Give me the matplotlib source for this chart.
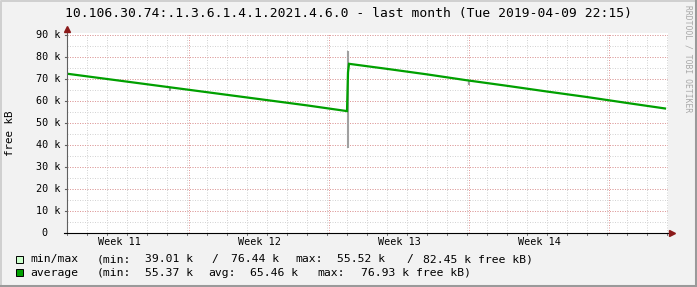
import matplotlib.pyplot as plt
import numpy as np

# rrdtool "last month" free memory graph
titulo = "10.106.30.74:.1.3.6.1.4.1.2021.4.6.0 - last month (Tue 2019-04-09 22:15)"

# time axis in days from the left edge of the graph
dias = [0.0, 2.0, 4.0, 6.0, 8.0, 10.0, 12.0, 14.0, 14.05, 14.1,
        16.0, 18.0, 20.0, 22.0, 24.0, 26.0, 28.0, 29.9]
promedio = [72.4, 70.0, 67.6, 65.2, 62.8, 60.4, 58.0, 55.4, 73.0, 76.9,
            74.6, 72.1, 69.4, 66.9, 64.3, 61.8, 59.1, 56.6]  # kB x1000

# min/max spread where it shows off the average line
mm_dias = [5.15, 14.05, 20.1]
mm_min = [64.7, 38.8, 67.3]
mm_max = [66.0, 82.5, 69.2]

semanas = ["Week 11", "Week 12", "Week 13", "Week 14"]
semana_inicio = 6.1  # first week boundary (days)

ymax = 90.9
xmax = 30.05

fig = plt.figure(figsize=(6.97, 2.87), dpi=100)
fig.patch.set_facecolor('#f2f2f2')
W, H = 697.0, 287.0
ax = fig.add_axes([67 / W, (H - 233) / H, 601 / W, 200 / H])
ax.set_facecolor('white')
ax.set_xlim(0, xmax)
ax.set_ylim(0, ymax)
for s in ax.spines.values():
    s.set_visible(False)
ax.set_xticks([])
ax.set_yticks([])

mono = 'DejaVu Sans Mono'
punteado = (0, (1, 1.5))

# grid: minor every day / 5k, major every week / 10k
for d in np.arange(1, xmax, 1.0):
    ax.axvline(d, color='#d4d4d4', lw=0.72, ls=punteado, zorder=1)
for v in np.arange(5, ymax, 5):
    ax.axhline(v, color='#d4d4d4', lw=0.72, ls=punteado, zorder=1)
for d in np.arange(semana_inicio, xmax, 7.0):
    ax.axvline(d, color='#e49c9c', lw=0.72, ls=punteado, zorder=1.5)
for v in np.arange(10, ymax, 10):
    ax.axhline(v, color='#e49c9c', lw=0.72, ls=punteado, zorder=1.5)

# data
ax.vlines(mm_dias, mm_min, mm_max, color='#a0a0a0', lw=1.5, zorder=3)
ax.plot(dias, promedio, color='#00a000', lw=1.6, zorder=4, solid_joinstyle='miter')

# axes with arrows
ax.plot([0, 0], [0, ymax + 1.4], color='#606060', lw=0.8, clip_on=False, zorder=5)
ax.plot([-0.15, xmax + 0.05], [0, 0], color='black', lw=0.8, clip_on=False, zorder=5)
ax.plot([0], [ymax + 1.8], marker='^', ms=4, color='#8b1a1a', clip_on=False, zorder=6)
ax.plot([xmax + 0.2], [0], marker='>', ms=4, color='#8b1a1a', clip_on=False, zorder=6)
for v in np.arange(0, ymax, 10):
    ax.plot([-0.12, 0], [v, v], color='#606060', lw=0.8, clip_on=False)
for d in np.arange(0, xmax, 1.0):
    ax.plot([d, d], [-0.9, 0], color='#606060', lw=0.6, clip_on=False)

# tick labels
for v in np.arange(10, ymax, 10):
    ax.text(-0.35, v, "%d k" % v, ha='right', va='center', family=mono, fontsize=7.3)
ax.text(-1.0, 0, "0", ha='right', va='center', family=mono, fontsize=7.3)
for i, s in enumerate(semanas):
    ax.text(semana_inicio + 7 * i - 3.5, -4.0, s, ha='center', va='center',
            family=mono, fontsize=7.3)

# title and labels
fig.text(0.5, 1 - 13.5 / H, titulo, ha='center', va='center', family=mono, fontsize=9.4)
fig.text(10 / W, 1 - 133 / H, "free kB", ha='center', va='center', rotation=90,
         family=mono, fontsize=7.8)
fig.text(688 / W, 1 - 5 / H, "RRDTOOL / TOBI OETIKER", ha='center', va='top',
         rotation=270, family=mono, fontsize=5.8, color='#a8a8a8')

# legend
def fila(y, color, piezas):
    fig.patches.append(plt.Rectangle((16 / W, 1 - (y + 3.5) / H), 7 / W, 7 / H,
                                     transform=fig.transFigure, facecolor=color,
                                     edgecolor='black', lw=0.7))
    for x, t in piezas:
        fig.text(x / W, 1 - y / H, t, ha='left', va='center', family=mono, fontsize=8.2)

fila(259.3, '#ccffcc', [(30.7, "min/max"), (96.7, "(min:"), (145, "39.01 k"),
                        (211.7, "/"), (231, "76.44 k"), (295.5, "max:"),
                        (337.3, "55.52 k"), (406.7, "/"), (423.3, "82.45 k free kB)")])
fila(272.7, '#00a000', [(30.7, "average"), (96.7, "(min:"), (145, "55.37 k"),
                        (208, "avg:"), (250.5, "65.46 k"), (317, "max:"),
                        (361, "76.93 k free kB)")])

# outer 3d frame
fig.add_artist(plt.Line2D([0.5 / W, 0.5 / W, 1 - 1.5 / W], [1.5 / H, 1 - 0.5 / H, 1 - 0.5 / H],
                          transform=fig.transFigure, color='#d0d0d0', lw=1.4))
fig.add_artist(plt.Line2D([0.5 / W, 1 - 1.5 / W, 1 - 1.5 / W], [1.5 / H, 1.5 / H, 1 - 0.5 / H],
                          transform=fig.transFigure, color='#9a9a9a', lw=2.2))

fig.savefig('out.png', dpi=100, facecolor=fig.get_facecolor())
